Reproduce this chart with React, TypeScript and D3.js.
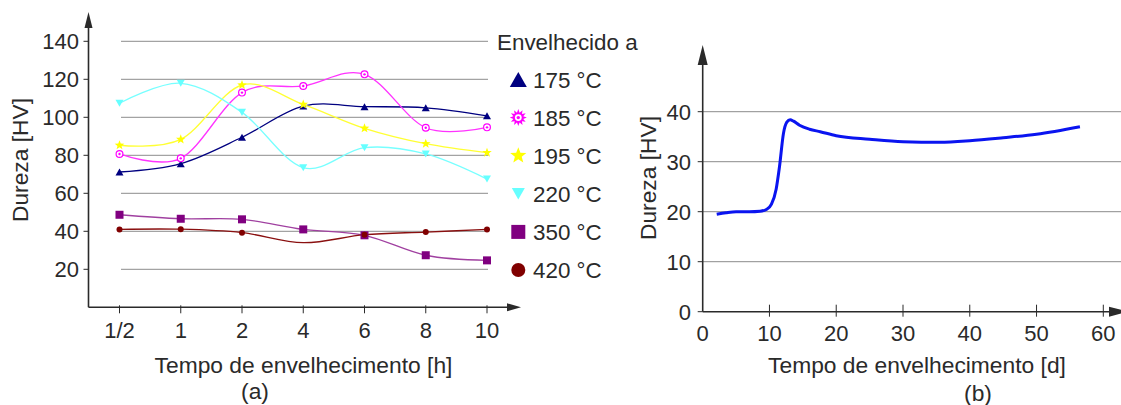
import React from 'react';
import * as d3 from 'd3';

// ---- chart (a) data ----
const timeLabels = ['1/2', '1', '2', '4', '6', '8', '10'];
const hardnessTicksA = [20, 40, 60, 80, 100, 120, 140];
const series175 = [71.2, 75.6, 89.5, 105.9, 105.6, 105, 100.8];
const series185 = [80.7, 78.4, 113, 116.5, 122.6, 94.5, 94.7];
const series195 = [85.3, 88.4, 117, 106.8, 94.2, 86.1, 81.4];
const series220 = [107.4, 117.9, 102.6, 73.5, 84, 80.7, 67.5];
const series350 = [48.7, 46.6, 46.3, 41, 37.9, 27.4, 24.7];
const series420 = [41, 41.1, 39.3, 34, 38.2, 39.6, 41];
const hidden420 = [false, false, false, true, false, false, false];

// ---- chart (b) data ----
const daysTicks = [0, 10, 20, 30, 40, 50, 60];
const hardnessTicksB = [0, 10, 20, 30, 40];
const curveDays = [2.1, 3.5, 5, 7, 8.6, 9.6, 10.3, 11, 11.5, 12.1, 12.6, 13.1, 13.6, 14.5, 16, 17.6, 20, 25, 30, 35.5, 40, 45, 50, 56.5];
const curveHardness = [19.5, 19.8, 20, 20, 20.1, 20.5, 21.5, 24.5, 29, 35.7, 37.9, 38.4, 38.1, 37.3, 36.5, 36, 35.2, 34.5, 34, 33.9, 34.2, 34.8, 35.5, 37];

const font = '"Liberation Sans", Arial, sans-serif';
const ink = '#2a2a2a';

const series = [
  { label: '175 °C', values: series175, color: '#000080', line: '#000080', marker: 'triUp' },
  { label: '185 °C', values: series185, color: '#ff00ff', line: '#ff33ff', marker: 'ring' },
  { label: '195 °C', values: series195, color: '#ffff00', line: '#ffff33', marker: 'star' },
  { label: '220 °C', values: series220, color: '#66ffff', line: '#77ffff', marker: 'triDown' },
  { label: '350 °C', values: series350, color: '#800080', line: '#a040a0', marker: 'square' },
  { label: '420 °C', values: series420, color: '#800000', line: '#8a1010', marker: 'circle' },
];

function starPath(r: number, spikes: number, inner: number) {
  const pts: [number, number][] = [];
  for (let i = 0; i < spikes * 2; i++) {
    const a = (Math.PI * i) / spikes - Math.PI / 2;
    const rr = i % 2 === 0 ? r : r * inner;
    pts.push([Math.cos(a) * rr, Math.sin(a) * rr]);
  }
  return 'M' + pts.map(p => p[0].toFixed(2) + ',' + p[1].toFixed(2)).join('L') + 'Z';
}

function Marker({ kind, x, y, s, color, legend }: any) {
  const t = `translate(${x},${y})`;
  if (kind === 'triUp') {
    const h = s * 0.88;
    return <path transform={t} d={`M0,${-h / 2}L${s / 2},${h / 2}L${-s / 2},${h / 2}Z`} fill={color} />;
  }
  if (kind === 'triDown') {
    const h = s * 0.88;
    return <path transform={t} d={`M0,${h / 2}L${s / 2},${-h / 2}L${-s / 2},${-h / 2}Z`} fill={color} />;
  }
  if (kind === 'square') {
    return <rect x={x - s / 2} y={y - s / 2} width={s} height={s} fill={color} />;
  }
  if (kind === 'circle') {
    return <circle cx={x} cy={y} r={s / 2} fill={color} />;
  }
  if (kind === 'star') {
    return <path transform={t} d={starPath(s / 2, 5, 0.42)} fill={color} />;
  }
  // ring / starburst
  if (legend) {
    return (
      <g transform={t}>
        <path d={starPath(s / 2, 12, 0.6)} fill={color} />
        <circle r={s * 0.2} fill="#fff" />
        <circle r={s * 0.1} fill={color} />
      </g>
    );
  }
  return (
    <g transform={t}>
      <circle r={s / 2 - 0.6} fill="#fff" stroke={color} strokeWidth={1.2} />
      <circle r={s * 0.15} fill={color} />
    </g>
  );
}

export default function App() {
  // chart (a)
  const xA = d3.scalePoint<string>().domain(timeLabels).range([119.5, 487]);
  const yA = d3.scaleLinear().domain([0, 140]).range([307.3, 41.3]);
  const lineA = d3
    .line<number>()
    .x((_, i) => xA(timeLabels[i]) as number)
    .y(d => yA(d))
    .curve(d3.curveCardinal.tension(0));
  const axisAx = 88.5;
  const axisAy = yA(0);

  // chart (b)
  const xB = d3.scaleLinear().domain([0, 60]).range([702.7, 1103.3]);
  const yB = d3.scaleLinear().domain([0, 40]).range([311.7, 111.7]);
  const lineB = d3
    .line<number>()
    .x(d => xB(d))
    .y((_, i) => yB(curveHardness[i]))
    .curve(d3.curveMonotoneX);

  const legendY = d3.scaleLinear().domain([0, 5]).range([79.5, 270]);

  return (
    <svg
      width={1121}
      height={405}
      style={{ position: 'absolute', left: 0, top: 0, background: '#fff' }}
      fontFamily={font}
    >
      {/* ---------- (a) ---------- */}
      {hardnessTicksA.map(v => (
        <g key={'ga' + v}>
          <line x1={121} x2={488} y1={yA(v)} y2={yA(v)} stroke="#8c8c8c" strokeWidth={1} />
          <line x1={axisAx - 5} x2={axisAx} y1={yA(v)} y2={yA(v)} stroke={ink} strokeWidth={1} />
          <text x={79} y={yA(v)} dy="0.36em" textAnchor="end" fontSize={22} fill={ink}>
            {v}
          </text>
        </g>
      ))}
      <line x1={axisAx} x2={axisAx} y1={axisAy} y2={24} stroke={ink} strokeWidth={1.6} />
      <path d={`M${axisAx},12L${axisAx + 4},28L${axisAx - 4},28Z`} fill={ink} />
      <line x1={axisAx} x2={510} y1={axisAy} y2={axisAy} stroke={ink} strokeWidth={1.6} />
      <path d={`M521,${axisAy}L507,${axisAy - 4}L507,${axisAy + 4}Z`} fill={ink} />
      {timeLabels.map(c => (
        <g key={'ta' + c}>
          <line x1={xA(c)} x2={xA(c)} y1={axisAy - 2} y2={axisAy + 6} stroke={ink} strokeWidth={1} />
          <text x={xA(c)} y={338} textAnchor="middle" fontSize={22} fill={ink}>
            {c}
          </text>
        </g>
      ))}
      <text x={303.5} y={373} textAnchor="middle" fontSize={22.8} fill={ink}>
        Tempo de envelhecimento [h]
      </text>
      <text x={255} y={399} textAnchor="middle" fontSize={22.8} fill={ink}>
        (a)
      </text>
      <text transform="translate(28,160) rotate(-90)" textAnchor="middle" fontSize={22.8} fill={ink}>
        Dureza [HV]
      </text>

      {series.map(s => (
        <path key={'l' + s.label} d={lineA(s.values) || ''} fill="none" stroke={s.line} strokeWidth={1.3} />
      ))}
      {series.map(s =>
        s.values.map((v, i) =>
          s.marker === 'circle' && hidden420[i] ? null : (
            <Marker
              key={s.label + i}
              kind={s.marker}
              x={xA(timeLabels[i])}
              y={yA(v)}
              s={s.marker === 'circle' ? 6 : s.marker === 'square' ? 8 : s.marker === 'ring' ? 8 : s.marker === 'star' ? 10 : 8}
              color={s.color}
            />
          )
        )
      )}

      {/* legend */}
      <text x={497} y={42} dy="0.36em" fontSize={22.4} fill={ink}>
        Envelhecido a
      </text>
      {series.map((s, i) => (
        <g key={'lg' + s.label}>
          <Marker
            kind={s.marker}
            x={518.3}
            y={legendY(i)}
            s={s.marker === 'triDown' ? 13 : s.marker === 'square' ? 14 : s.marker === 'circle' ? 14 : 17}
            color={s.color}
            legend
          />
          <text x={533} y={legendY(i)} dy="0.36em" fontSize={22.4} fill={ink}>
            {s.label}
          </text>
        </g>
      ))}

      {/* ---------- (b) ---------- */}
      {hardnessTicksB.map(v => (
        <g key={'gb' + v}>
          {v > 0 && <line x1={xB(0)} x2={1121} y1={yB(v)} y2={yB(v)} stroke="#8c8c8c" strokeWidth={1} />}
          <line x1={xB(0) - 5} x2={xB(0)} y1={yB(v)} y2={yB(v)} stroke={ink} strokeWidth={1} />
          <text x={691} y={yB(v)} dy="0.36em" textAnchor="end" fontSize={22} fill={ink}>
            {v}
          </text>
        </g>
      ))}
      <line x1={xB(0)} x2={xB(0)} y1={yB(0)} y2={60} stroke={ink} strokeWidth={1.6} />
      <path d={`M${xB(0)},45L${xB(0) + 5},65L${xB(0) - 5},65Z`} fill={ink} />
      <line x1={xB(0)} x2={1112} y1={yB(0)} y2={yB(0)} stroke={ink} strokeWidth={1.6} />
      <path d={`M1128,${yB(0)}L1109,${yB(0) - 5}L1109,${yB(0) + 5}Z`} fill={ink} />
      {daysTicks.map(d => (
        <g key={'tb' + d}>
          {d > 0 && <line x1={xB(d)} x2={xB(d)} y1={yB(0) - 7} y2={yB(0) + 5} stroke={ink} strokeWidth={1} />}
          <text x={xB(d)} y={341} textAnchor="middle" fontSize={22} fill={ink}>
            {d}
          </text>
        </g>
      ))}
      <text x={917} y={373} textAnchor="middle" fontSize={22.8} fill={ink}>
        Tempo de envelhecimento [d]
      </text>
      <text x={978} y={401} textAnchor="middle" fontSize={22.8} fill={ink}>
        (b)
      </text>
      <text transform="translate(656,178) rotate(-90)" textAnchor="middle" fontSize={22.8} fill={ink}>
        Dureza [HV]
      </text>
      <path d={lineB(curveDays) || ''} fill="none" stroke="#0a14f0" strokeWidth={3} />
    </svg>
  );
}
